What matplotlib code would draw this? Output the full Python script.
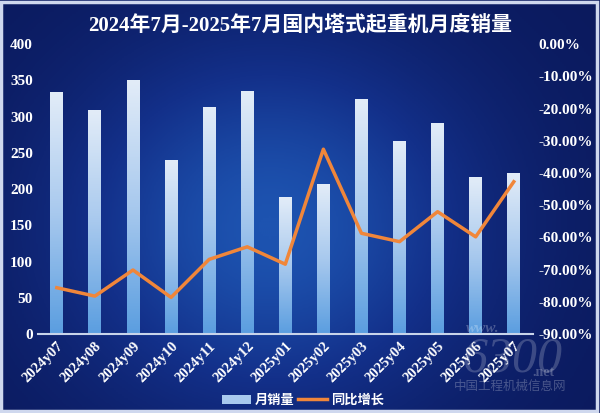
import numpy as np
import matplotlib.pyplot as plt
from matplotlib.lines import Line2D
from matplotlib.patches import Patch
from matplotlib.colors import LinearSegmentedColormap

plt.rcParams['font.family'] = ['Liberation Serif', 'Noto Sans CJK SC', 'DejaVu Sans']

# data
months = ["2024y07", "2024y08", "2024y09", "2024y10", "2024y11", "2024y12",
          "2025y01", "2025y02", "2025y03", "2025y04", "2025y05", "2025y06", "2025y07"]
sales = [333, 308, 350, 239, 313, 334, 188, 206, 323, 265, 290, 216, 221]
yoy = [-75.6, -78.2, -70.1, -78.6, -66.8, -62.9, -68.3,
       -32.6, -58.7, -61.3, -52.0, -59.8, -42.7]

title = "2024年7月-2025年7月国内塔式起重机月度销量"

fig = plt.figure(figsize=(6, 4.13), dpi=100)

# background gradient (dark navy with lighter blue glow in the middle)
bg = fig.add_axes([0, 0, 1, 1])
yy, xx = np.mgrid[0:1:200j, 0:1:300j]
glow = np.exp(-(((xx - 0.45) / 0.35) ** 2 + ((yy - 0.45) / 0.45) ** 2))
bg_cmap = LinearSegmentedColormap.from_list("bg", ["#0b1a5e", "#13308a", "#1d53b0"])
bg.imshow(glow, cmap=bg_cmap, aspect="auto", extent=[0, 1, 0, 1], origin="lower")
bg.set_xlim(0, 1)
bg.set_ylim(0, 1)
bg.axis("off")
# light frame around the picture
bg.add_patch(plt.Rectangle((0.002, 0.004), 0.993, 0.99, fill=False,
                           edgecolor="#cfd8ee", lw=2.5))

ax = fig.add_axes([0.063, 0.191, 0.825, 0.702])
ax.patch.set_alpha(0)
x = np.arange(len(months))
w = 0.34

# bars with vertical gradient
bar_cmap = LinearSegmentedColormap.from_list("bar", ["#5b9ee0", "#a8c9ee", "#e2ecf8"])
grad = np.linspace(0, 1, 100).reshape(-1, 1)
for xi, h in zip(x, sales):
    ax.imshow(grad, cmap=bar_cmap, aspect="auto", origin="lower",
              extent=[xi - w / 2, xi + w / 2, 0, h], zorder=2)

ax.set_xlim(-0.5, len(months) - 0.5)
ax.set_ylim(0, 400)
ax.set_yticks(range(0, 401, 50))
for s in ["top", "right", "left"]:
    ax.spines[s].set_visible(False)
ax.spines["bottom"].set_color("#c8d4ea")
ax.spines["bottom"].set_linewidth(1.5)
ax.tick_params(axis="both", length=0, colors="white")
ax.set_yticklabels([str(v) for v in range(0, 401, 50)], fontsize=11, fontweight="bold")
ax.set_xticks(x)
ax.set_xticklabels(months, rotation=45, ha="right", va="top", rotation_mode="anchor",
                   fontsize=10.5, fontweight="bold")
ax.tick_params(axis="x", pad=4)

ax2 = ax.twinx()
ax2.patch.set_alpha(0)
ax2.plot(x, yoy, color="#f0863a", lw=2.5, zorder=3)
ax2.set_ylim(-90, 0)
ax2.set_yticks(range(-90, 1, 10))
ax2.set_yticklabels([f"{v:.2f}%" for v in range(-90, 1, 10)], fontsize=11, fontweight="bold")
ax2.tick_params(axis="y", length=0, colors="white", pad=4)
for s in ax2.spines.values():
    s.set_visible(False)

fig.text(0.5, 0.935, title, ha="center", va="center", color="white",
         fontsize=15, fontweight="bold", family=["Liberation Serif", "Noto Sans CJK SC"])

handles = [Patch(facecolor="#a8c9ee", edgecolor="none"),
           Line2D([0], [0], color="#f0863a", lw=2.5)]
leg = fig.legend(handles, ["月销量", "同比增长"], loc="center", bbox_to_anchor=(0.505, 0.032),
                 ncol=2, frameon=False, handlelength=2.2, columnspacing=0.3,
                 handletextpad=0.3, prop={"family": ["Noto Sans CJK SC"], "weight": "bold", "size": 9.5})
for t in leg.get_texts():
    t.set_color("white")

# faint site watermark
fig.text(0.805, 0.195, "www.", color="white", alpha=0.25, fontsize=11, ha="center",
         style="italic", fontweight="bold")
fig.text(0.855, 0.1, "6300", color="white", alpha=0.2, fontsize=36, ha="center", style="italic")
fig.text(0.905, 0.09, ".net", color="white", alpha=0.25, fontsize=10, ha="center", fontweight="bold")
fig.text(0.85, 0.055, "中国工程机械信息网", color="white", alpha=0.25, fontsize=9, ha="center",
         family=["Noto Sans CJK SC"])

fig.savefig("out.png", dpi=100)
